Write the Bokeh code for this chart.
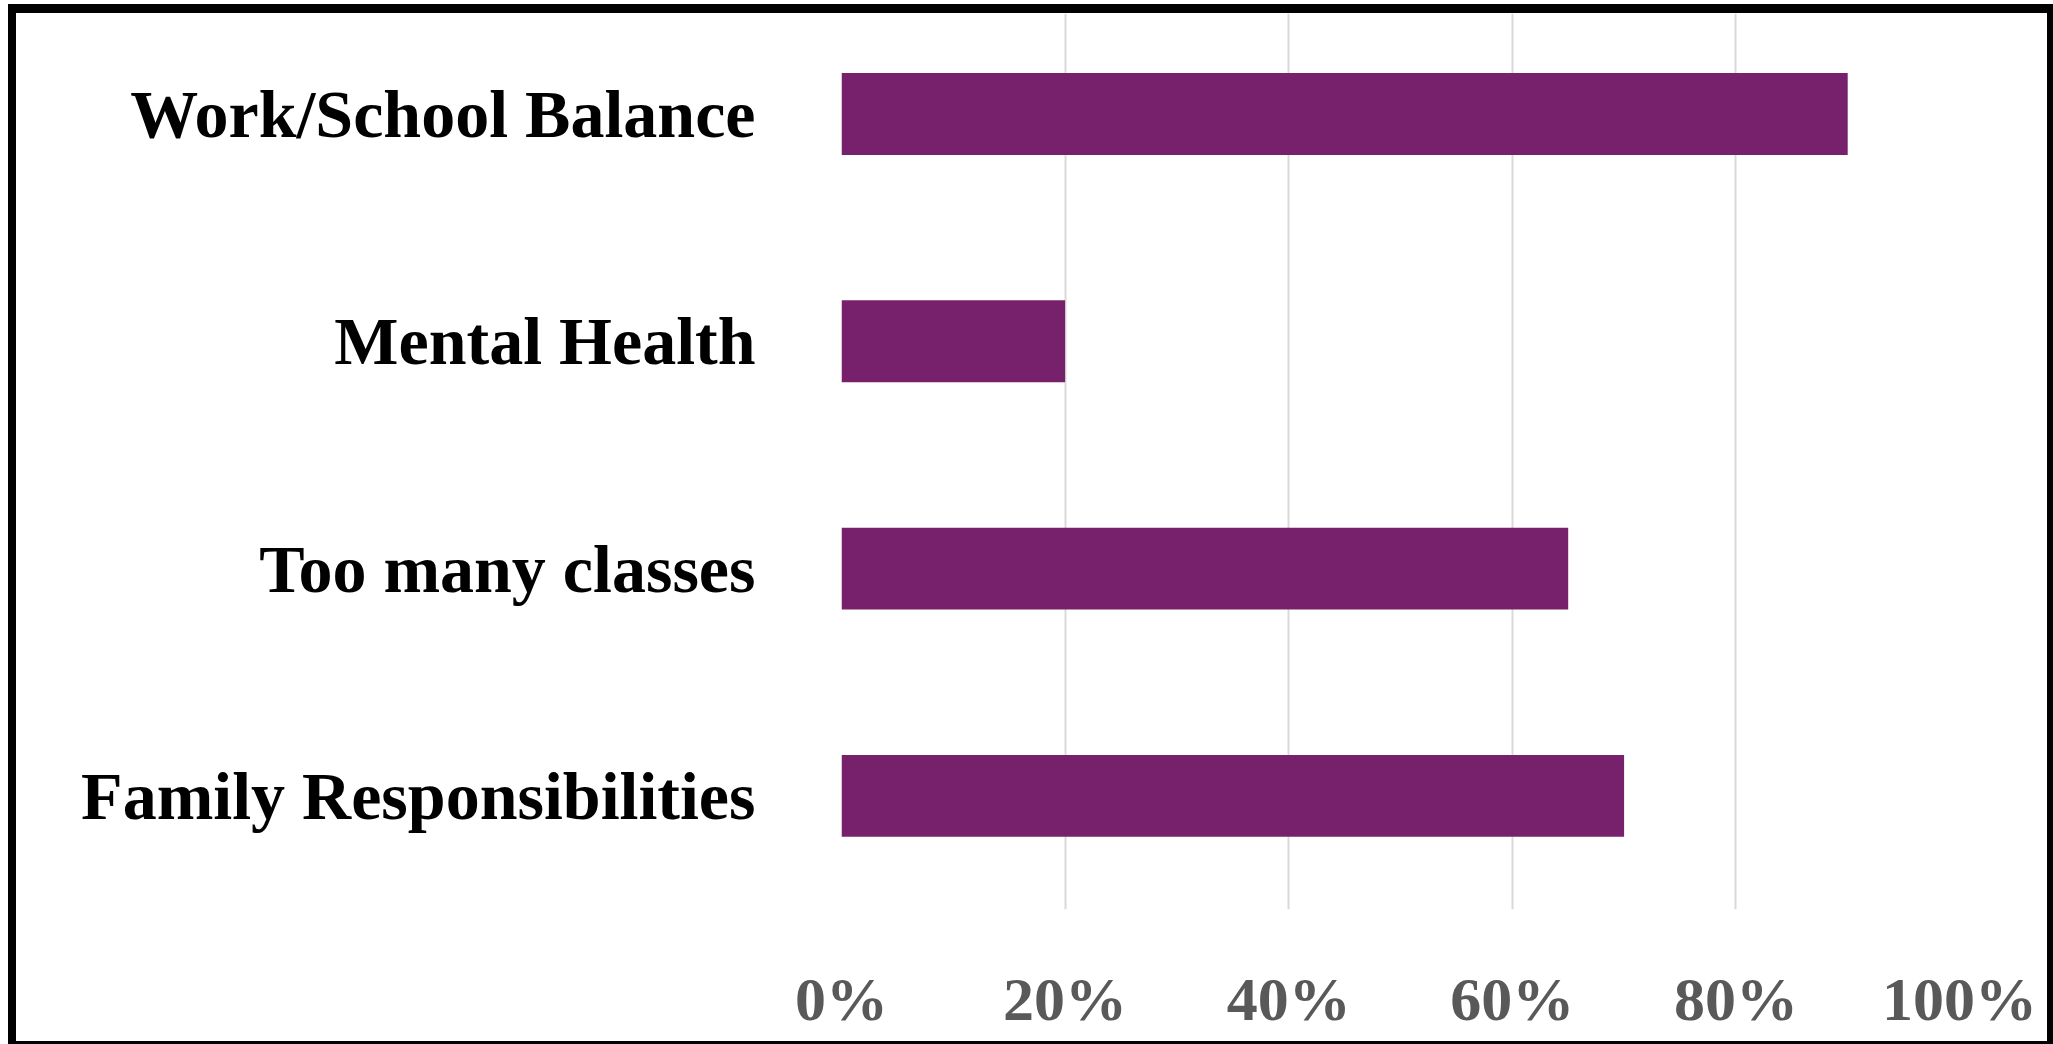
from bokeh.plotting import figure
from bokeh.layouts import column
from bokeh.models import Range1d, FixedTicker, NumeralTickFormatter
from bokeh.embed import file_html
from bokeh.resources import INLINE

# Data (top to bottom as shown)
categories = ["Work/School Balance", "Mental Health", "Too many classes", "Family Responsibilities"]
values = [0.90, 0.20, 0.65, 0.70]
x_ticks = [0.0, 0.2, 0.4, 0.6, 0.8, 1.0]

n = len(categories)
ypos = [n - 1 - i for i in range(n)]

p = figure(width=2031, height=1028, output_backend="svg", toolbar_location=None,
           x_range=Range1d(0, 1), y_range=Range1d(-0.5, 3.442),
           min_border_left=825, min_border_right=88, min_border_top=0, min_border_bottom=132)

p.hbar(y=ypos, right=values, left=0, height=0.36, color="#77206B", line_color=None)

p.outline_line_color = None
p.background_fill_color = "white"
p.border_fill_color = "white"

# x axis
xa = p.xaxis[0]
xa.ticker = FixedTicker(ticks=x_ticks)
xa.formatter = NumeralTickFormatter(format="0%")
xa.axis_line_color = None
xa.major_tick_line_color = None
xa.minor_tick_line_color = None
xa.major_tick_out = 0
xa.major_tick_in = 0
xa.major_label_text_font = "Liberation Serif"
xa.major_label_text_font_style = "bold"
xa.major_label_text_font_size = "62px"
xa.major_label_text_color = "#595959"
xa.major_label_standoff = 55

# y axis
ya = p.yaxis[0]
ya.ticker = FixedTicker(ticks=ypos)
ya.major_label_overrides = {y: c for y, c in zip(ypos, categories)}
ya.axis_line_color = None
ya.major_tick_line_color = None
ya.minor_tick_line_color = None
ya.major_label_text_font = "Liberation Serif"
ya.major_label_text_font_style = "bold"
ya.major_label_text_font_size = "68px"
ya.major_label_text_color = "black"
ya.major_label_standoff = 80

p.xgrid.ticker = FixedTicker(ticks=x_ticks)
p.xgrid.grid_line_color = "#d9d9d9"
p.xgrid.grid_line_width = 2
p.ygrid.grid_line_color = None

layout = column(p, styles={"border-style": "solid", "border-color": "black",
                           "border-width": "9px 6px 3px 8px",
                           "margin": "4px 0px 0px 8px",
                           "background-color": "white"})

open("out.html", "w").write(file_html(layout, INLINE))
